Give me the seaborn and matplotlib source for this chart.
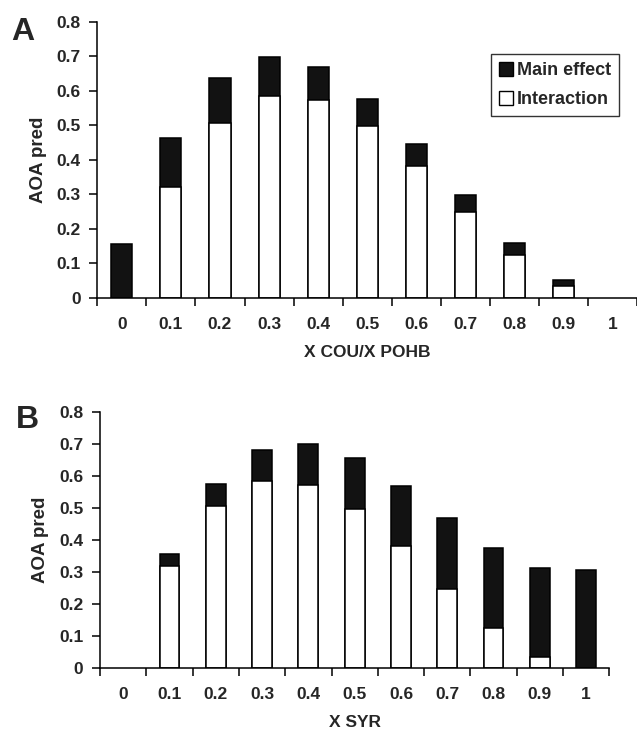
"""
AOA pred - main effect vs interaction, stacked bars
"""
import pandas as pd
import numpy as np
import matplotlib
matplotlib.use('Agg')
import matplotlib.pyplot as plt
import seaborn as sns
from matplotlib.patches import Patch
from matplotlib.ticker import FixedLocator

# data
fractions = ['0', '0.1', '0.2', '0.3', '0.4', '0.5', '0.6', '0.7', '0.8', '0.9', '1']
interaction = [0.0, 0.32, 0.507, 0.585, 0.573, 0.497, 0.381, 0.248, 0.125, 0.033, 0.0]
total_a = [0.155, 0.464, 0.636, 0.697, 0.668, 0.577, 0.445, 0.298, 0.159, 0.051, 0.0]
total_b = [0.0, 0.356, 0.575, 0.682, 0.701, 0.656, 0.570, 0.469, 0.375, 0.313, 0.308]

sns.set_style('white')
plt.rcParams['font.family'] = ['Liberation Sans', 'DejaVu Sans']
plt.rcParams['font.weight'] = 'bold'

fig = plt.figure(figsize=(6.37, 7.35), dpi=100)
ax_a = fig.add_axes([0.1528, 0.5950, 0.8473, 0.3755])
ax_b = fig.add_axes([0.1570, 0.0912, 0.7995, 0.3479])

dark = '#121212'


def draw_panel(ax, total, xlabel):
    df = pd.DataFrame({'x': fractions, 'total': total, 'inter': interaction})
    # black = whole bar (main effect on top), white = interaction part
    sns.barplot(data=df, x='x', y='total', order=fractions, color=dark,
                edgecolor='black', linewidth=1.1, width=0.43, saturation=1, ax=ax)
    sns.barplot(data=df, x='x', y='inter', order=fractions, color='white',
                edgecolor='black', linewidth=1.1, width=0.43, saturation=1, ax=ax)
    # hide zero height bars outline
    for p in ax.patches:
        if p.get_height() == 0:
            p.set_visible(False)
    ax.set_xlim(-0.5, len(fractions) - 0.5)
    ax.set_ylim(0, 0.8)
    ax.set_yticks(np.arange(0, 0.81, 0.1))
    ax.set_yticklabels(['0'] + ['%.1f' % v for v in np.arange(0.1, 0.81, 0.1)])
    ax.xaxis.set_minor_locator(FixedLocator(np.arange(-0.5, len(fractions), 1.0)))
    ax.tick_params(axis='x', which='major', length=0, pad=14, labelsize=12.5)
    ax.tick_params(axis='x', which='minor', length=6, width=1.1, direction='out', color='black')
    ax.tick_params(axis='y', length=6, width=1.1, direction='out', color='black', labelsize=12.5, pad=6)
    ax.tick_params(bottom=True, left=True, which='both')
    for lab in ax.get_xticklabels() + ax.get_yticklabels():
        lab.set_fontweight('bold')
    sns.despine(ax=ax)
    for s in ['left', 'bottom']:
        ax.spines[s].set_color('black')
        ax.spines[s].set_linewidth(1.1)
    ax.set_xlabel(xlabel, fontsize=12.5, fontweight='bold', labelpad=9)
    ax.set_ylabel('AOA pred', fontsize=13.5, fontweight='bold', labelpad=7)


draw_panel(ax_a, total_a, 'X COU/X POHB')
draw_panel(ax_b, total_b, 'X SYR')

handles = [Patch(facecolor=dark, edgecolor='black', label='Main effect'),
           Patch(facecolor='white', edgecolor='black', label='Interaction')]
leg = ax_a.legend(handles=handles, loc='upper right', bbox_to_anchor=(0.9667, 0.883),
                  borderaxespad=0, frameon=True, fancybox=False,
                  handlelength=0.8, handleheight=0.8, handletextpad=0.2,
                  borderpad=0.45, labelspacing=0.65,
                  prop={'size': 13, 'weight': 'bold'})
leg.get_frame().set_edgecolor('black')
leg.get_frame().set_linewidth(1.0)

fig.text(23 / 637, 1 - 32 / 735, 'A', fontsize=23, fontweight='bold', ha='center', va='center')
fig.text(27 / 637, 1 - 420 / 735, 'B', fontsize=23, fontweight='bold', ha='center', va='center')

fig.savefig('out.png', dpi=100)
